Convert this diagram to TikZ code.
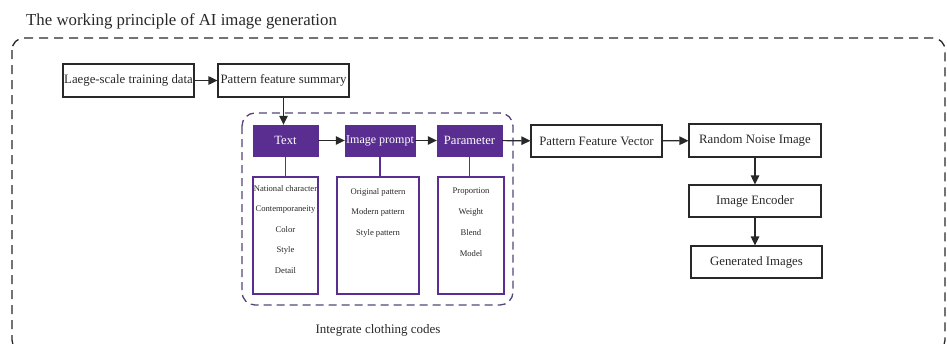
\documentclass[tikz,border=0pt]{standalone}
\usepackage{fontspec}
\setmainfont{Liberation Serif}
\usetikzlibrary{arrows.meta}
\definecolor{deeppurple}{RGB}{90,45,145}
\definecolor{groupline}{RGB}{85,70,120}
\definecolor{inkgray}{RGB}{40,40,40}
\tikzset{
  plainbox/.style={draw=inkgray, line width=1.2pt, fill=white, inner sep=0pt, font=\fontsize{12.8}{15}\selectfont, text=inkgray},
  headbox/.style={draw=deeppurple, fill=deeppurple, inner sep=0pt, text=white, font=\fontsize{12.6}{15}\selectfont},
  listbox/.style={draw=deeppurple, line width=1.2pt, fill=white, inner sep=0pt},
  listtext/.style={font=\fontsize{8.6}{10}\selectfont, text=inkgray, inner sep=0pt},
  flow/.style={draw=inkgray, line width=1.2pt, -{Triangle[length=9pt,width=8.5pt]}},
  link/.style={draw=deeppurple, line width=1.2pt},
}
\begin{document}
\begin{tikzpicture}[x=1pt, y=-1pt]
\useasboundingbox (0,0) rectangle (947,343);

% title
\node[anchor=west, font=\fontsize{16.8}{20}\selectfont, text=inkgray, inner sep=0pt] (title) at (26,21) {The working principle of AI image generation};

% outer dashed frame (bottom runs past the visible area)
\draw[inkgray, line width=1.3pt, dash pattern=on 9pt off 6pt, rounded corners=12pt] (12,38) rectangle (945,352);

% dashed group around the clothing codes
\draw[groupline, line width=1.3pt, dash pattern=on 8pt off 5pt, rounded corners=13pt] (242,113) rectangle (513,305);
\node[font=\fontsize{13}{15}\selectfont, text=inkgray, inner sep=0pt] (grouplabel) at (378,330) {Integrate clothing codes};

% top chain
\node[plainbox, minimum width=131pt, minimum height=33pt] (data) at (128.5,80.5) {Laege-scale training data};
\node[plainbox, minimum width=131pt, minimum height=33pt] (summary) at (283.5,80.5) {Pattern feature summary};

% purple heads
\node[headbox, minimum width=65pt, minimum height=31pt] (text) at (285.5,140.5) {Text};
\node[headbox, minimum width=70pt, minimum height=31pt, font=\fontsize{12}{14}\selectfont] (prompt) at (380,140.5) {Image prompt};
\node[headbox, minimum width=65pt, minimum height=31pt] (param) at (469.5,140.5) {Parameter};

% list boxes
\node[listbox, minimum width=65pt, minimum height=117pt] (textlist) at (285.5,235.5) {};
\node[listbox, minimum width=82pt, minimum height=117pt] (promptlist) at (378,235.5) {};
\node[listbox, minimum width=66pt, minimum height=117pt] (paramlist) at (471,235.5) {};

\node[listtext] (t1) at (285.5,189) {National character};
\node[listtext] (t2) at (285.5,210) {Contemporaneity};
\node[listtext] (t3) at (285.5,230) {Color};
\node[listtext] (t4) at (285.5,250.5) {Style};
\node[listtext] (t5) at (285.5,271) {Detail};

\node[listtext] (p1) at (378,192) {Original pattern};
\node[listtext] (p2) at (378,212.5) {Modern pattern};
\node[listtext] (p3) at (378,233) {Style pattern};

\node[listtext] (q1) at (471,192) {Proportion};
\node[listtext] (q2) at (471,212.5) {Weight};
\node[listtext] (q3) at (471,233) {Blend};
\node[listtext] (q4) at (471,253.5) {Model};

\draw[link] (text.south) -- (textlist.north);
\draw[link] (prompt.south) -- (prompt.south |- promptlist.north);
\draw[link] (param.south) -- (param.south |- paramlist.north);

% right chain
\node[plainbox, minimum width=131pt, minimum height=32pt] (vector) at (596.5,141) {Pattern Feature Vector};
\node[plainbox, minimum width=132pt, minimum height=33pt] (noise) at (755,140.5) {Random Noise Image};
\node[plainbox, minimum width=132pt, minimum height=32pt] (encoder) at (755,201) {Image Encoder};
\node[plainbox, minimum width=131pt, minimum height=32pt] (generated) at (756.5,262) {Generated Images};

% connectors
\draw[flow] (data) -- (summary);
\draw[flow] (summary.south) -- (summary.south |- text.north);
\draw[flow] (text) -- (prompt);
\draw[flow] (prompt) -- (param);
\draw[flow] (param) -- (vector);
\draw[flow] (vector) -- (noise);
\draw[flow] (noise.south) -- (noise.south |- encoder.north);
\draw[flow] (encoder.south) -- (encoder.south |- generated.north);
\end{tikzpicture}
\end{document}
